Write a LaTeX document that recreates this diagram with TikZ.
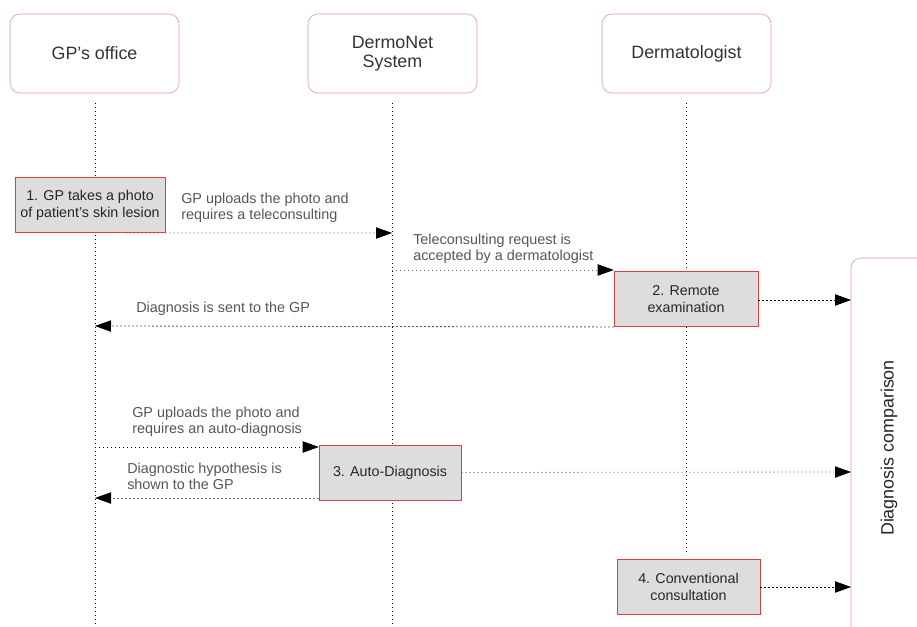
\documentclass[tikz,border=0pt]{standalone}
\usepackage{fontspec}
\setmainfont{Liberation Sans}
\usetikzlibrary{arrows.meta}
\definecolor{boxred}{RGB}{214,64,64}
\definecolor{palered}{RGB}{220,150,150}
\definecolor{stepgray}{RGB}{221,221,221}
\definecolor{labelgray}{RGB}{85,85,95}
\tikzset{
  actor/.style={draw=palered, rounded corners=7.5pt, inner sep=0pt, minimum width=126.75pt, minimum height=59.25pt, align=center, font=\fontsize{13.4}{14.5}\selectfont, text=black!80},
  stepbox/.style={draw=boxred, fill=stepgray, inner sep=0pt, minimum height=41.5pt, align=center, font=\fontsize{10.7}{12.5}\selectfont, text=black!85},
  lifeline/.style={line width=0.6pt, dash pattern=on 1pt off 2pt},
  msg/.style={line width=0.6pt, dash pattern=on 1pt off 2pt, -{Triangle[length=12pt,width=8.5pt,black]}},
  msglabel/.style={anchor=west, align=left, inner sep=0pt, font=\fontsize{10.8}{12}\selectfont, text=labelgray}
}
\begin{document}
\begin{tikzpicture}[x=0.75pt,y=0.75pt,yscale=-1,xscale=1]
\clip (0,0) rectangle (917,627);

% Actors
\node (gp) [actor] at (94.5,53.5) {GP’s office};
\node (dn) [actor] at (392.5,53.5) {DermoNet\\System};
\node (derm) [actor] at (686.5,53.5) {Dermatologist};

% Lifelines
\coordinate (gpend) at (95,627);
\coordinate (dnend) at (392,627);
\coordinate (dermend) at (686,555);
\draw [lifeline] (95,103) -- (gpend);
\draw [lifeline] (392,103) -- (dnend);
\draw [lifeline] (686,103) -- (dermend);

% Steps
\node (s1) [stepbox, minimum width=112.5pt] at (90,205) {1. GP takes a photo\\of patient's skin lesion};
\node (s2) [stepbox, minimum width=108pt] at (686,299) {2. Remote\\examination};
\node (s3) [stepbox, minimum width=106.5pt] at (390,472.5) {3. Auto-Diagnosis};
\node (s4) [stepbox, minimum width=107.25pt] at (688.5,587) {4. Conventional\\consultation};

% Diagnosis comparison
\draw [draw=palered, rounded corners=7.5pt] (960,258) -- (851,258) -- (851,627) -- (851,660);
\node (cmp) [rotate=90, font=\fontsize{13.4}{14.5}\selectfont, text=black!85] at (889,448) {Diagnosis comparison};

% Messages
\coordinate (m1) at (392,233);
\coordinate (m2a) at (392,270);
\coordinate (m3) at (95,326);
\coordinate (m4a) at (95,447);
\coordinate (m5) at (95,498);
\coordinate (c2) at (851,300);
\coordinate (c3) at (851,472);
\coordinate (c4) at (851,587);

\draw [msg, draw=black!55] (s1.south east) ++(-40,0) -- (m1);
\node [msglabel] at (181,207.5) {GP uploads the photo and\\requires a teleconsulting};

\draw [msg, draw=black!55] (m2a) -- (s2.west |- m2a);
\node [msglabel] at (413,249) {Teleconsulting request is\\accepted by a dermatologist};

\draw [msg] (s2.south west) -- (m3);
\node [msglabel] at (136,309) {Diagnosis is sent to the GP};

\draw [msg] (m4a) -- (s3.west |- m4a);
\node [msglabel] at (132,421.5) {GP uploads the photo and\\requires an auto-diagnosis};

\draw [msg, draw=black!55] (s3.west |- m5) -- (m5);
\node [msglabel] at (127,476.5) {Diagnostic hypothesis is\\shown to the GP};

\draw [msg] (s2.east |- c2) -- (c2);
\draw [msg, draw=black!55] (s3.east) -- (c3);
\draw [msg] (s4.east) -- (c4);

\end{tikzpicture}
\end{document}
